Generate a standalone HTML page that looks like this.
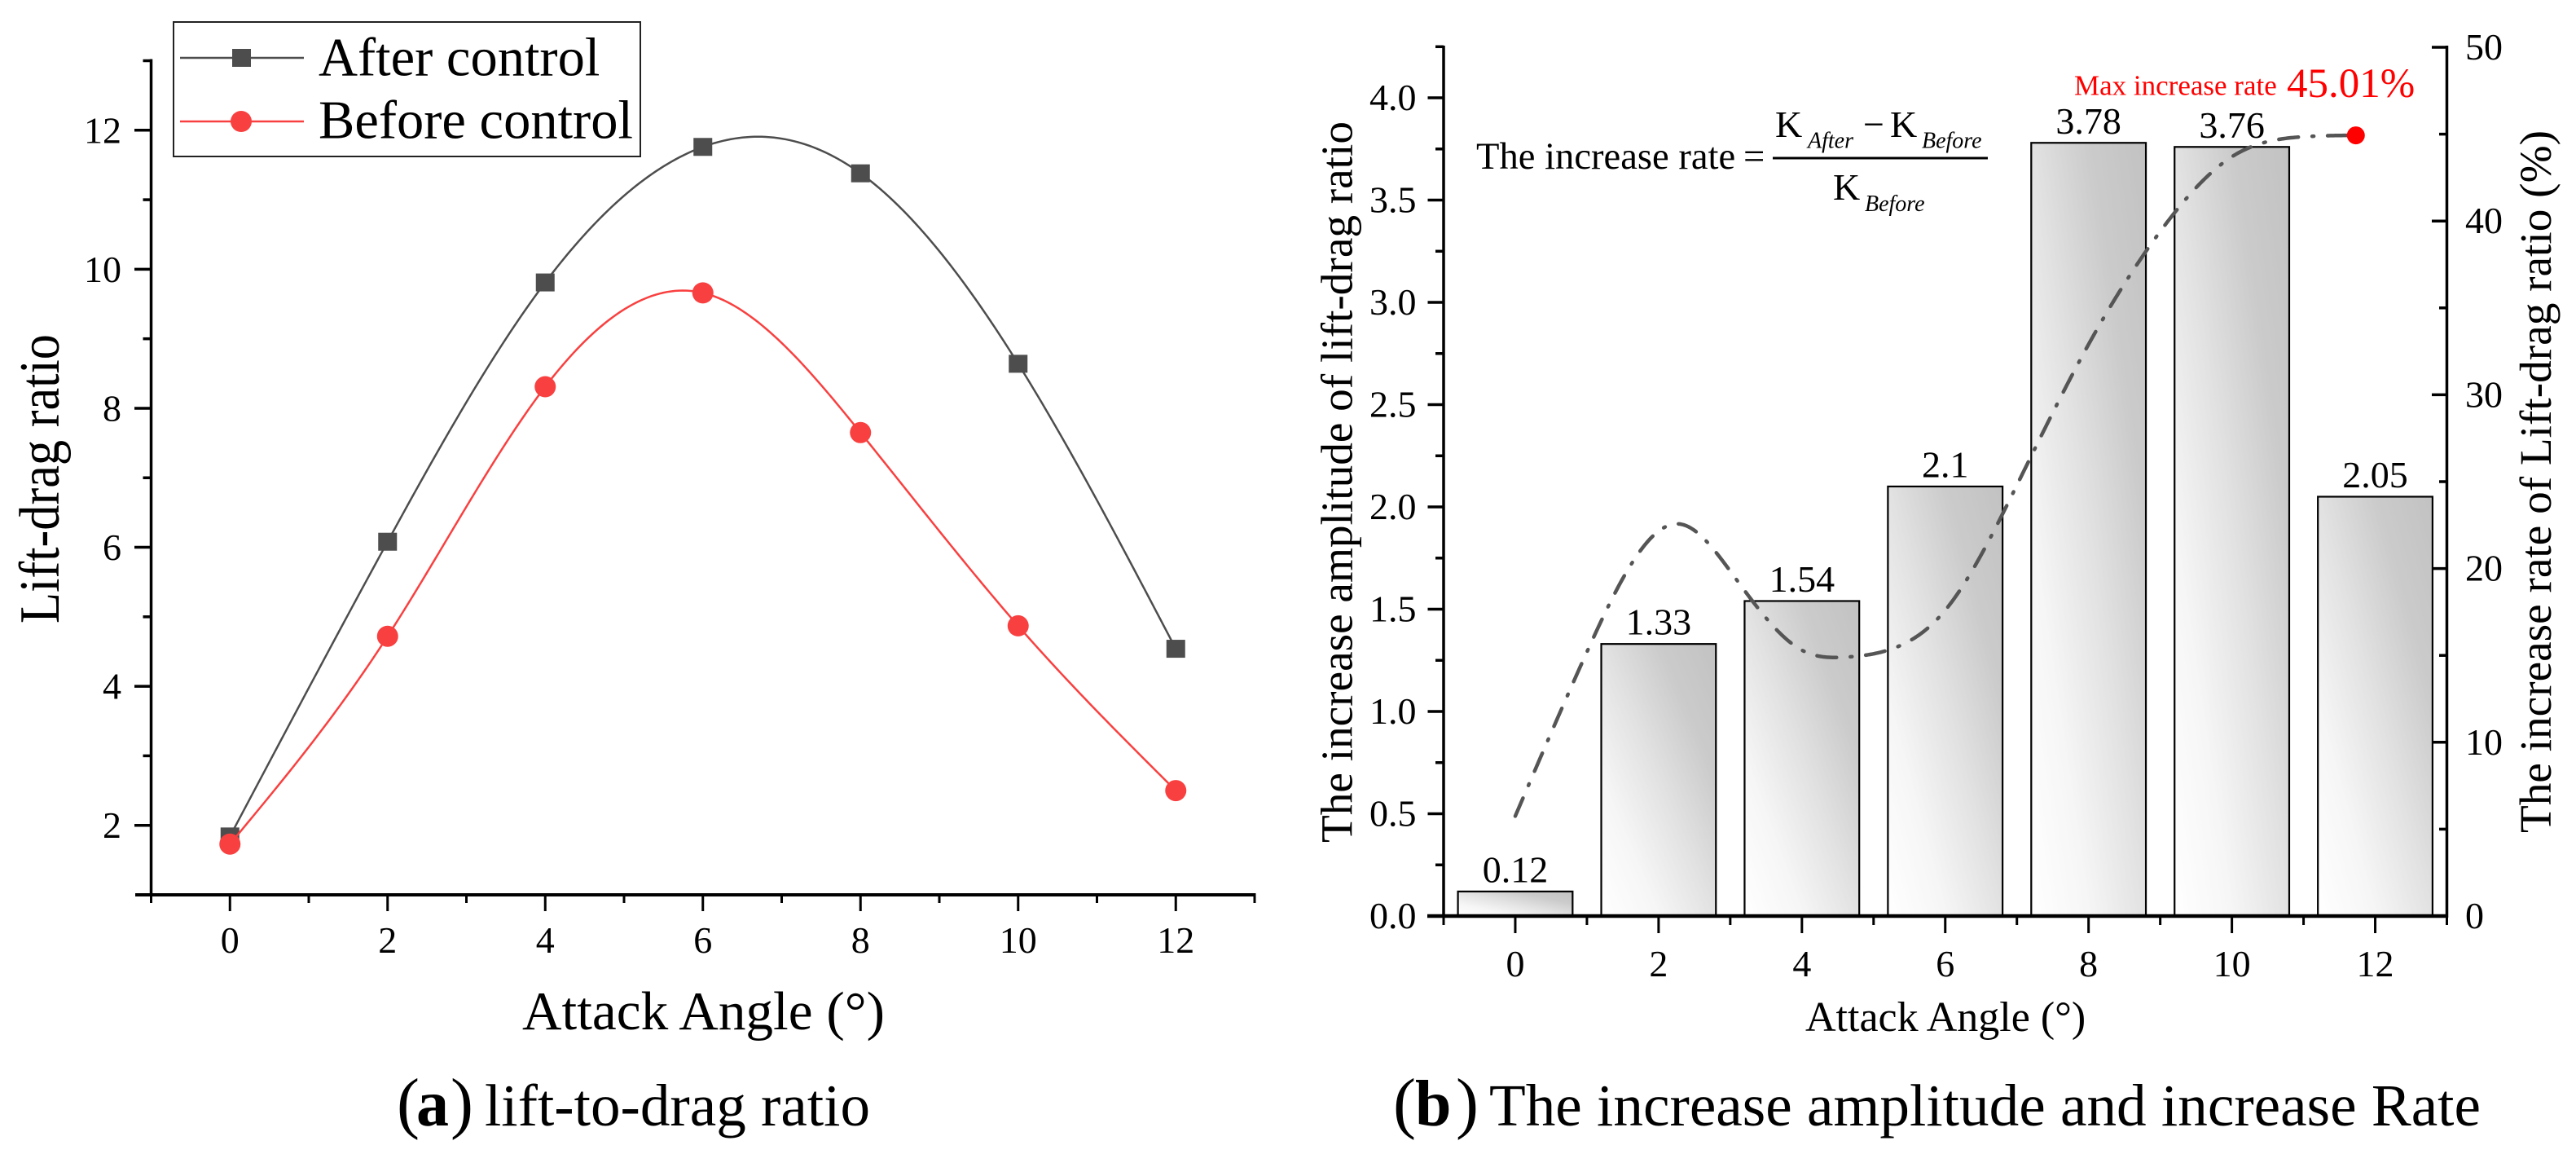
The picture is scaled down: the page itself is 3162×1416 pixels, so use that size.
<!DOCTYPE html>
<html lang="en">
<head>
<meta charset="utf-8">
<title>Lift-to-drag ratio charts</title>
<style>
html,body{margin:0;padding:0;background:#fff;}
svg{display:block;}
text{font-family:"Liberation Serif","Noto Serif CJK SC",serif;fill:#000;}
</style>
</head>
<body>
<svg id="fig" xmlns="http://www.w3.org/2000/svg" width="3162" height="1416" viewBox="0 0 3162 1416">
  <defs>
    <linearGradient id="barGrad" x1="1" y1="0" x2="0" y2="1">
      <stop offset="0" stop-color="#c2c2c2"/>
      <stop offset="0.25" stop-color="#cbcbcb"/>
      <stop offset="0.5" stop-color="#e2e2e2"/>
      <stop offset="0.75" stop-color="#f6f6f6"/>
      <stop offset="1" stop-color="#ffffff"/>
    </linearGradient>
  </defs>
  <rect x="0" y="0" width="3162" height="1416" fill="#fff"/>
  <g id="panelA"></g>
  <g id="panelB"></g>

  <g>
    <rect x="213" y="27" width="573" height="165" fill="#fff" stroke="#222" stroke-width="2"/>
    <g>
      <line x1="221" y1="71" x2="373" y2="71" stroke="#4d4d4d" stroke-width="2.5"/>
      <rect x="285" y="60" width="23" height="22" fill="#4d4d4d"/>
      <text x="391" y="92.6" font-size="66.5">After control</text>
    </g>
    <g>
      <line x1="221" y1="149" x2="373" y2="149" stroke="#f94040" stroke-width="2.5"/>
      <circle cx="296" cy="149" r="13" fill="#f94040"/>
      <text x="391" y="169.5" font-size="66.5">Before control</text>
    </g>
  </g>

  <text transform="translate(72,765) rotate(-90) scale(1,1.14)" font-size="61" textLength="355" lengthAdjust="spacingAndGlyphs">Lift-drag ratio</text>
  <text x="641" y="1263" font-size="66.6" textLength="445" lengthAdjust="spacingAndGlyphs">Attack Angle (°)</text>
  <g>
    <text x="487" y="1381" font-size="84">(</text>
    <text x="511" y="1381" font-size="80" font-weight="bold">a</text>
    <text x="553" y="1381" font-size="84">)</text>
    <text x="595" y="1381" font-size="73" textLength="473" lengthAdjust="spacingAndGlyphs">lift-to-drag ratio</text>
  </g>

  <text transform="translate(1659.5,1034) rotate(-90)" font-size="55" textLength="885" lengthAdjust="spacingAndGlyphs">The increase amplitude of lift-drag ratio</text>
  <text transform="translate(3131,1022) rotate(-90)" font-size="55" textLength="862" lengthAdjust="spacingAndGlyphs">The increase rate of Lift-drag ratio (%)</text>
  <text x="2216" y="1265" font-size="52">Attack Angle (°)</text>
  <g>
    <text x="1710" y="1381" font-size="84">(</text>
    <text x="1737" y="1381" font-size="80" font-weight="bold">b</text>
    <text x="1787" y="1381" font-size="84">)</text>
    <text x="1828" y="1381" font-size="73" textLength="1217" lengthAdjust="spacingAndGlyphs">The increase amplitude and increase Rate</text>
  </g>

  <g>
    <text x="1812" y="207" font-size="46.6">The increase rate</text>
    <text x="2140" y="207" font-size="46.6">=</text>
    <line x1="2176" y1="194" x2="2440" y2="194" stroke="#000" stroke-width="3"/>
    <text x="2179" y="168" font-size="46">K</text>
    <text x="2219" y="181.5" font-size="28" font-style="italic">After</text>
    <text x="2287" y="168" font-size="46">−</text>
    <text x="2320" y="168" font-size="46">K</text>
    <text x="2359" y="181.5" font-size="28" font-style="italic">Before</text>
    <text x="2250" y="245" font-size="46">K</text>
    <text x="2289" y="259" font-size="28" font-style="italic">Before</text>
  </g>

  <g>
    <text x="2546" y="116.5" font-size="35" style="fill:#f00">Max increase rate</text>
    <text x="2807" y="119" font-size="51" style="fill:#f00">45.01%</text>
  </g>
</svg>

<script>
// ---------- Panel (a) data ----------
const anglesA = [0, 2, 4, 6, 8, 10, 12];
const afterControl = [1.84, 6.08, 9.81, 11.76, 11.38, 8.64, 4.54];
const beforeControl = [1.73, 4.72, 8.31, 9.66, 7.65, 4.87, 2.5];
const xMajorTicks = [0, 2, 4, 6, 8, 10, 12];
const xMinorTicks = [-1, 1, 3, 5, 7, 9, 11, 13];
const yMajorTicksA = [2, 4, 6, 8, 10, 12];
const yMinorTicksA = [1, 3, 5, 7, 9, 11, 13];

// ---------- Panel (b) data ----------
const anglesB = [0, 2, 4, 6, 8, 10, 12];
const amplitudeValues = [0.12, 1.33, 1.54, 2.1, 3.78, 3.76, 2.05];
const rateAngles = [0, 1, 2.3, 3, 4, 4.6, 5.2, 6, 7, 8, 9, 10, 11, 11.93];
const rateValues = [5.75, 15.2, 22.56, 19.85, 15.3, 14.9, 15.3, 17.6, 24.8, 32.9, 39.4, 43.7, 44.85, 44.93];
const maxPointAngle = [11.73];
const maxPointRate = [44.93];
const yMajorTicksB = [0, 0.5, 1, 1.5, 2, 2.5, 3, 3.5, 4];
const yMinorTicksB = [0.25, 0.75, 1.25, 1.75, 2.25, 2.75, 3.25, 3.75, 4.25];
const rateMajorTicks = [0, 10, 20, 30, 40, 50];
const rateMinorTicks = [5, 15, 25, 35, 45];

const NS = 'http://www.w3.org/2000/svg';
function linear(d0, d1, r0, r1) {
  return function (v) { return r0 + (v - d0) * (r1 - r0) / (d1 - d0); };
}
function mk(parent, tag, attrs, txt) {
  const e = document.createElementNS(NS, tag);
  for (const k in attrs) e.setAttribute(k, attrs[k]);
  if (txt !== undefined) e.textContent = txt;
  parent.appendChild(e);
  return e;
}
function splinePath(xs, ys, sx, sy) {
  const n = xs.length, a = new Array(n).fill(0), b = new Array(n).fill(0), c = new Array(n).fill(0), r = new Array(n).fill(0), m = new Array(n).fill(0);
  b[0] = 1; b[n - 1] = 1;
  for (let i = 1; i < n - 1; i++) {
    const h0 = xs[i] - xs[i - 1], h1 = xs[i + 1] - xs[i];
    a[i] = h0; b[i] = 2 * (h0 + h1); c[i] = h1;
    r[i] = 6 * ((ys[i + 1] - ys[i]) / h1 - (ys[i] - ys[i - 1]) / h0);
  }
  for (let i = 1; i < n; i++) {
    const f = a[i] / b[i - 1];
    b[i] -= f * c[i - 1];
    r[i] -= f * r[i - 1];
  }
  m[n - 1] = r[n - 1] / b[n - 1];
  for (let i = n - 2; i >= 0; i--) m[i] = (r[i] - c[i] * m[i + 1]) / b[i];
  let d = '';
  for (let i = 0; i < n - 1; i++) {
    const h = xs[i + 1] - xs[i];
    for (let s = 0; s <= 40; s++) {
      if (i > 0 && s === 0) continue;
      const t = xs[i] + h * s / 40, A = (xs[i + 1] - t) / h, B = (t - xs[i]) / h;
      const y = A * ys[i] + B * ys[i + 1] + ((A * A * A - A) * m[i] + (B * B * B - B) * m[i + 1]) * h * h / 6;
      d += (d ? 'L' : 'M') + sx(t).toFixed(2) + ' ' + sy(y).toFixed(2);
    }
  }
  return d;
}

const panelA = document.getElementById('panelA');
const panelB = document.getElementById('panelB');

// ---------- Panel (a) scales ----------
const xA = linear(-1, 13, 185.5, 1540);
const yA = linear(1, 13, 1098, 74.5);

// Series (a)
const lineAfter = mk(panelA, 'path', { d: splinePath(anglesA, afterControl, xA, yA), fill: 'none', stroke: '#4d4d4d', 'stroke-width': 2.5 });


anglesA.forEach(function (ang, i) {
  const el = mk(panelA, 'rect', { x: xA(ang) - 11.5, y: yA(afterControl[i]) - 11, width: 23, height: 22, fill: '#4d4d4d' });
  
  
});
const lineBefore = mk(panelA, 'path', { d: splinePath(anglesA, beforeControl, xA, yA), fill: 'none', stroke: '#f94040', 'stroke-width': 2.5 });


anglesA.forEach(function (ang, i) {
  const el = mk(panelA, 'circle', { cx: xA(ang), cy: yA(beforeControl[i]), r: 13, fill: '#f94040' });
  
  
});

// Axes (a)
const axisYA = mk(panelA, 'line', { x1: 185.5, y1: 72.5, x2: 185.5, y2: 1100, stroke: '#000', 'stroke-width': 3.5 });


const axisXA = mk(panelA, 'line', { x1: 166, y1: 1098, x2: 1541.5, y2: 1098, stroke: '#000', 'stroke-width': 4 });


yMajorTicksA.forEach(function (v) {
  const tk = mk(panelA, 'line', { x1: 165, y1: yA(v), x2: 185.5, y2: yA(v), stroke: '#000', 'stroke-width': 3.5 });
  
  
  const lb = mk(panelA, 'text', { x: 149, y: yA(v) + 15.5, 'font-size': 46, 'text-anchor': 'end' }, String(v));
  
  
});
yMinorTicksA.forEach(function (v) {
  const tk = mk(panelA, 'line', { x1: 175.5, y1: yA(v), x2: 185.5, y2: yA(v), stroke: '#000', 'stroke-width': 3.5 });
  
  
});
xMajorTicks.forEach(function (v) {
  const tk = mk(panelA, 'line', { x1: xA(v), y1: 1098, x2: xA(v), y2: 1118, stroke: '#000', 'stroke-width': 3 });
  
  
  const lb = mk(panelA, 'text', { x: xA(v), y: 1169, 'font-size': 46, 'text-anchor': 'middle' }, String(v));
  
  
});
xMinorTicks.forEach(function (v) {
  const tk = mk(panelA, 'line', { x1: xA(v), y1: 1098, x2: xA(v), y2: 1108, stroke: '#000', 'stroke-width': 3 });
  
  
});

// ---------- Panel (b) scales ----------
const xB = linear(-1, 13, 1772, 3003.5);
const yB = linear(0, 4.25, 1124, 57.3);
const rateY = linear(0, 50, 1124, 58);
const barUnits = 1.6;

// Bars
anglesB.forEach(function (ang, i) {
  const top = yB(amplitudeValues[i]);
  const bar = mk(panelB, 'rect', { x: xB(ang - barUnits / 2), y: top, width: xB(ang + barUnits / 2) - xB(ang - barUnits / 2), height: yB(0) - top, fill: 'url(#barGrad)', stroke: '#000', 'stroke-width': 2.2 });
  
  
  const lb = mk(panelB, 'text', { x: xB(ang), y: top - 11.5, 'font-size': 46, 'text-anchor': 'middle' }, String(amplitudeValues[i]));
  
  
});

// Rate line
const rateLine = mk(panelB, 'path', { d: splinePath(rateAngles, rateValues, xB, rateY), fill: 'none', stroke: '#555', 'stroke-width': 4.5, 'stroke-linecap': 'round', 'stroke-dasharray': '24 17 2 17' });


const maxDot = mk(panelB, 'circle', { cx: xB(maxPointAngle[0]), cy: rateY(maxPointRate[0]), r: 11, fill: '#f00' });



// Axes (b)
const axisYB = mk(panelB, 'line', { x1: 1772, y1: 56, x2: 1772, y2: 1126, stroke: '#000', 'stroke-width': 3.5 });


const axisRB = mk(panelB, 'line', { x1: 3003.5, y1: 56, x2: 3003.5, y2: 1126, stroke: '#000', 'stroke-width': 3.5 });


const axisXB = mk(panelB, 'line', { x1: 1752, y1: 1124, x2: 3005, y2: 1124, stroke: '#000', 'stroke-width': 4.5 });



yMajorTicksB.forEach(function (v) {
  const tk = mk(panelB, 'line', { x1: 1752.5, y1: yB(v), x2: 1772, y2: yB(v), stroke: '#000', 'stroke-width': 3.5 });
  
  
  const lb = mk(panelB, 'text', { x: 1738.5, y: yB(v) + 15, 'font-size': 46, 'text-anchor': 'end' }, v.toFixed(1));
  
  
});
yMinorTicksB.forEach(function (v) {
  const tk = mk(panelB, 'line', { x1: 1762, y1: yB(v), x2: 1772, y2: yB(v), stroke: '#000', 'stroke-width': 3.5 });
  
  
});
rateMajorTicks.forEach(function (v) {
  const tk = mk(panelB, 'line', { x1: 2985, y1: rateY(v), x2: 3003.5, y2: rateY(v), stroke: '#000', 'stroke-width': 3.5 });
  
  
  const lb = mk(panelB, 'text', { x: 3026, y: rateY(v) + 15, 'font-size': 46, 'text-anchor': 'start' }, String(v));
  
  
});
rateMinorTicks.forEach(function (v) {
  const tk = mk(panelB, 'line', { x1: 2994, y1: rateY(v), x2: 3003.5, y2: rateY(v), stroke: '#000', 'stroke-width': 3.5 });
  
  
});
xMajorTicks.forEach(function (v) {
  const tk = mk(panelB, 'line', { x1: xB(v), y1: 1124, x2: xB(v), y2: 1145, stroke: '#000', 'stroke-width': 3 });
  
  
  const lb = mk(panelB, 'text', { x: xB(v), y: 1198, 'font-size': 46, 'text-anchor': 'middle' }, String(v));
  
  
});
xMinorTicks.forEach(function (v) {
  const tk = mk(panelB, 'line', { x1: xB(v), y1: 1124, x2: xB(v), y2: 1135, stroke: '#000', 'stroke-width': 3 });
  
  
});
</script>
</body>
</html>
